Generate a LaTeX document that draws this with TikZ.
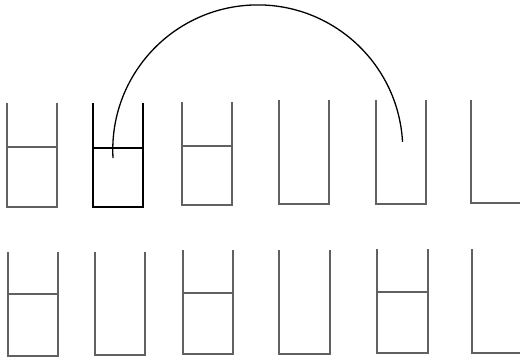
\documentclass[tikz,border=0pt]{standalone}
\begin{document}
\begin{tikzpicture}[x=1pt,y=1pt,
  wall/.style={draw=black!62,line width=1.3pt,line join=miter},
  wallhot/.style={draw=black,line width=1.3pt,line join=miter},
  level/.style={draw=black!62,line width=1.3pt},
  levelhot/.style={draw=black,line width=1.3pt},
  pour/.style={draw=black,line width=1.3pt}]
\useasboundingbox (0,0) rectangle (520,360);
% top row
\draw[wall] (7,257) -- (7,153) -- (57,153) -- (57,257);
\draw[level] (7,213) -- (57,213);
\draw[wallhot] (93,257) -- (93,153) -- (143,153) -- (143,257);
\draw[levelhot] (93,212) -- (143,212);
\draw[wall] (182,258) -- (182,155) -- (232,155) -- (232,258);
\draw[level] (182,214) -- (232,214);
\draw[wall] (279,260) -- (279,156) -- (329,156) -- (329,260);
\draw[wall] (376,260) -- (376,156) -- (426,156) -- (426,260);
\draw[wall] (471,260) -- (471,157) -- (520,157);
% bottom row
\draw[wall] (8,108) -- (8,4) -- (58,4) -- (58,108);
\draw[level] (8,66) -- (58,66);
\draw[wall] (95,108) -- (95,5) -- (145,5) -- (145,108);
\draw[wall] (183,110) -- (183,6) -- (233,6) -- (233,110);
\draw[level] (183,67) -- (233,67);
\draw[wall] (279,110) -- (279,6) -- (330,6) -- (330,110);
\draw[wall] (377,111) -- (377,7) -- (428,7) -- (428,111);
\draw[level] (377,68) -- (428,68);
\draw[wall] (472,111) -- (472,7) -- (520,7);
% pouring arc
\coordinate (from) at (113,202);
\draw[pour] (from) arc[start angle=183.2,end angle=3.2,radius=145pt] coordinate (to);
\end{tikzpicture}
\end{document}
